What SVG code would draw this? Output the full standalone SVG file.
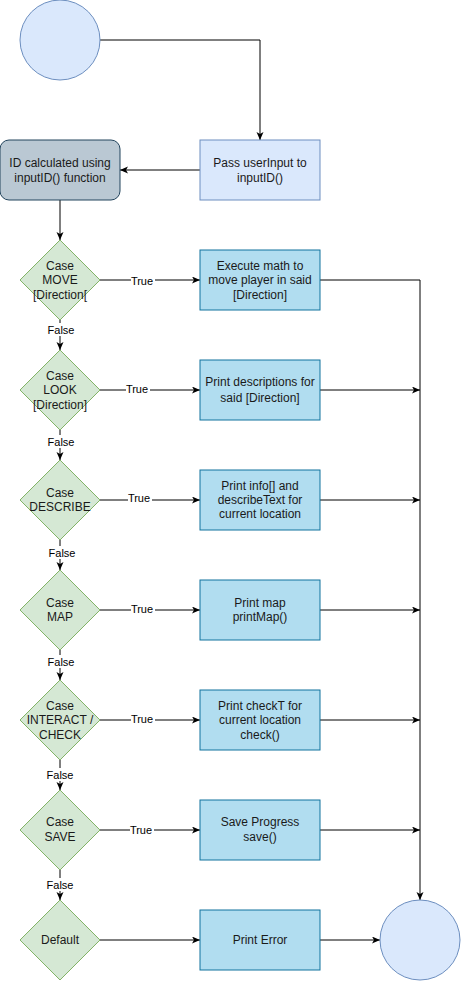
<svg xmlns="http://www.w3.org/2000/svg" width="461" height="981" viewBox="0 0 461 981">
<defs>
<marker id="arr" markerWidth="10" markerHeight="10" refX="8" refY="3.5" orient="auto" markerUnits="userSpaceOnUse">
<path d="M0,0 L8,3.5 L0,7 L2,3.5 Z" fill="#000"/>
</marker>
</defs>
<style>
text{font-family:"Liberation Sans",Arial,sans-serif;font-size:12px;fill:#1a1a1a;text-anchor:middle}
.lbl{font-size:11px;fill:#000}
.lb{fill:#fff}
.term{fill:#dae8fc;stroke:#6c8ebf;stroke-width:1}
.pass{fill:#dae8fc;stroke:#6c8ebf;stroke-width:1}
.calc{fill:#bac8d3;stroke:#23445d;stroke-width:1}
.proc{fill:#b1ddf0;stroke:#10739e;stroke-width:1}
.dec{fill:#d5e8d4;stroke:#82b366;stroke-width:1}
.c{fill:none;stroke:#000;stroke-width:1}
.ca{fill:none;stroke:#000;stroke-width:1;marker-end:url(#arr)}
</style>
<rect width="461" height="981" fill="#fff"/>
<g id="connectors">
<path class="ca" d="M100,40 H260 V140"/>
<path class="ca" d="M200,170 H120"/>
<path class="ca" d="M60,200 V240"/>
<path class="ca" d="M100,280 H200"/>
<path class="ca" d="M320,280 H420 V900"/>
<path class="ca" d="M60,320 V350"/>
<path class="ca" d="M100,390 H200"/>
<path class="ca" d="M320,390 H420"/>
<path class="ca" d="M60,430 V460"/>
<path class="ca" d="M100,500 H200"/>
<path class="ca" d="M320,500 H420"/>
<path class="ca" d="M60,540 V570"/>
<path class="ca" d="M100,610 H200"/>
<path class="ca" d="M320,610 H420"/>
<path class="ca" d="M60,650 V680"/>
<path class="ca" d="M100,720 H200"/>
<path class="ca" d="M320,720 H420"/>
<path class="ca" d="M60,760 V790"/>
<path class="ca" d="M100,830 H200"/>
<path class="ca" d="M320,830 H420"/>
<path class="ca" d="M60,870 V900"/>
<path class="ca" d="M100,940 H200"/>
<path class="ca" d="M320,940 H380"/>
<g id="labels">
<rect class="lb" x="131" y="274" width="24" height="13"/><text class="lbl" x="142" y="285">True</text>
<rect class="lb" x="126" y="383" width="24" height="13"/><text class="lbl" x="137" y="393">True</text>
<rect class="lb" x="128" y="491" width="24" height="13"/><text class="lbl" x="139" y="502">True</text>
<rect class="lb" x="131" y="603" width="24" height="13"/><text class="lbl" x="142" y="613">True</text>
<rect class="lb" x="131" y="712" width="24" height="13"/><text class="lbl" x="142" y="723">True</text>
<rect class="lb" x="130" y="824" width="24" height="13"/><text class="lbl" x="141" y="834">True</text>
<rect class="lb" x="47" y="323" width="28" height="13"/><text class="lbl" x="61" y="334">False</text>
<rect class="lb" x="47" y="435" width="28" height="13"/><text class="lbl" x="61" y="446">False</text>
<rect class="lb" x="48" y="546" width="28" height="13"/><text class="lbl" x="62" y="557">False</text>
<rect class="lb" x="47" y="655" width="28" height="13"/><text class="lbl" x="61" y="666">False</text>
<rect class="lb" x="46" y="768" width="28" height="13"/><text class="lbl" x="60" y="779">False</text>
<rect class="lb" x="46" y="878" width="28" height="13"/><text class="lbl" x="60" y="889">False</text>
</g>
</g>
<g id="start"><circle class="term" cx="60" cy="40" r="40"/></g>
<g id="pass"><rect class="pass" x="200" y="140" width="120" height="60"/><text x="260" y="167">Pass userInput to</text><text x="260" y="182">inputID()</text></g>
<g id="calc"><rect class="calc" x="0" y="140" width="120" height="60" rx="9"/><text x="60" y="167">ID calculated using</text><text x="60" y="182">inputID() function</text></g>
<g id="d-move"><path class="dec" d="M60,240 L100,280 L60,320 L20,280 Z"/><text x="60" y="270">Case</text><text x="60" y="284">MOVE</text><text x="60" y="299">[Direction[</text></g>
<g id="p-move"><rect class="proc" x="200" y="250" width="120" height="60"/><text x="260" y="270">Execute math to</text><text x="260" y="284">move player in said</text><text x="260" y="299">[Direction]</text></g>
<g id="d-look"><path class="dec" d="M60,350 L100,390 L60,430 L20,390 Z"/><text x="60" y="380">Case</text><text x="60" y="394">LOOK</text><text x="60" y="409">[Direction]</text></g>
<g id="p-look"><rect class="proc" x="200" y="360" width="120" height="60"/><text x="260" y="386">Print descriptions for</text><text x="260" y="402">said [Direction]</text></g>
<g id="d-describe"><path class="dec" d="M60,460 L100,500 L60,540 L20,500 Z"/><text x="60" y="497">Case</text><text x="60" y="511">DESCRIBE</text></g>
<g id="p-describe"><rect class="proc" x="200" y="470" width="120" height="60"/><text x="260" y="490">Print info[] and</text><text x="260" y="504">describeText for</text><text x="260" y="518">current location</text></g>
<g id="d-map"><path class="dec" d="M60,570 L100,610 L60,650 L20,610 Z"/><text x="60" y="607">Case</text><text x="60" y="621">MAP</text></g>
<g id="p-map"><rect class="proc" x="200" y="580" width="120" height="60"/><text x="260" y="607">Print map</text><text x="260" y="621">printMap()</text></g>
<g id="d-interact"><path class="dec" d="M60,680 L100,720 L60,760 L20,720 Z"/><text x="60" y="710">Case</text><text x="60" y="724">INTERACT /</text><text x="60" y="739">CHECK</text></g>
<g id="p-interact"><rect class="proc" x="200" y="690" width="120" height="60"/><text x="260" y="710">Print checkT for</text><text x="260" y="724">current location</text><text x="260" y="739">check()</text></g>
<g id="d-save"><path class="dec" d="M60,790 L100,830 L60,870 L20,830 Z"/><text x="60" y="826">Case</text><text x="60" y="841">SAVE</text></g>
<g id="p-save"><rect class="proc" x="200" y="800" width="120" height="60"/><text x="260" y="826">Save Progress</text><text x="260" y="841">save()</text></g>
<g id="d-default"><path class="dec" d="M60,900 L100,940 L60,980 L20,940 Z"/><text x="60" y="944">Default</text></g>
<g id="p-error"><rect class="proc" x="200" y="910" width="120" height="60"/><text x="260" y="944">Print Error</text></g>
<g id="end"><circle class="term" cx="420" cy="940" r="40"/></g>
</svg>
